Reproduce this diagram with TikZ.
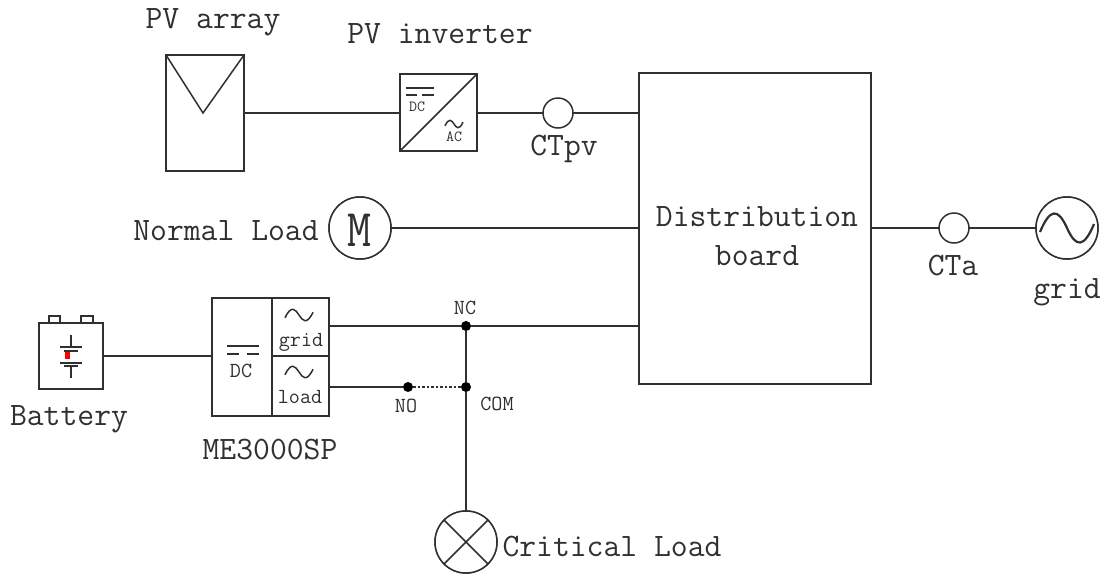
\documentclass[tikz,border=0pt]{standalone}
\usepackage{fontspec}
\definecolor{ink}{HTML}{303030}
\tikzset{
  wire/.style={draw=ink,line width=1.5pt},
  thin wire/.style={draw=ink,line width=1.2pt},
  box/.style={draw=ink,line width=1.5pt,rectangle,inner sep=0pt,outer sep=0pt,anchor=north west},
  ring/.style={draw=ink,line width=1.5pt,circle,inner sep=0pt,outer sep=0pt,fill=white},
  label/.style={text=ink,inner sep=0pt,font=\ttfamily\fontsize{32.7}{33}\selectfont},
  small/.style={text=ink,inner sep=0pt,font=\ttfamily\fontsize{21.5}{22}\selectfont},
  tiny/.style={text=ink,inner sep=0pt,font=\ttfamily\fontsize{15.5}{16}\selectfont},
  dot/.style={circle,fill=black,inner sep=0pt,minimum size=10pt},
}
\newcommand{\tildeat}[3]{% x, y, half width
  \draw[draw=ink,line width=1.5pt] (#1-#3,#2+#3*0.2) .. controls (#1-#3*0.55,#2-#3*0.75) and (#1-#3*0.25,#2-#3*0.4) .. (#1,#2)
     .. controls (#1+#3*0.25,#2+#3*0.4) and (#1+#3*0.55,#2+#3*0.75) .. (#1+#3,#2-#3*0.2);
}
\begin{document}
\begin{tikzpicture}[x=1pt,y=-1pt]
\useasboundingbox (0,0) rectangle (1110,579);

% shapes
\node[box,minimum width=78pt,minimum height=116pt] (pv) at (166,55) {};
\node[box,minimum width=77pt,minimum height=77pt] (inv) at (400,74) {};
\node[box,minimum width=232pt,minimum height=311pt] (board) at (639,73) {};
\node[box,minimum width=64pt,minimum height=66pt] (bat) at (39,323) {};
\node[box,minimum width=117pt,minimum height=118pt] (me) at (212,298) {};
\node[ring,minimum size=62pt] (motor) at (360,228) {};
\node[ring,minimum size=62pt] (gridsrc) at (1067,228) {};
\node[ring,minimum size=62pt] (lamp) at (466,542) {};
\node[dot] (nc) at (466,326) {};
\node[dot] (com) at (466,387) {};
\node[dot] (no) at (408,387) {};

% named connection points
\coordinate (pvout) at (244,113);
\coordinate (invin) at (400,113);
\coordinate (invout) at (477,113);
\coordinate (bpv) at (639,113);
\coordinate (bload) at (639,228);
\coordinate (bgrid) at (871,228);
\coordinate (bme) at (639,326);
\coordinate (batout) at (103,356);
\coordinate (mein) at (212,356);
\coordinate (megrid) at (329,326);
\coordinate (meload) at (329,387);

% connectors
\draw[wire] (pvout) -- (invin);
\draw[wire] (invout) -- (bpv);
\draw[wire] (motor) -- (bload);
\draw[wire] (bgrid) -- (gridsrc);
\draw[wire] (batout) -- (mein);
\draw[wire] (megrid) -- (nc) -- (bme);
\draw[wire] (meload) -- (no);
\draw[draw=ink,line width=1.5pt,dash pattern=on 2.5pt off 2pt] (no) -- (com);
\draw[wire] (nc) -- (com) -- (lamp);

% redraw rings on top of the wires
\node[ring,minimum size=30pt] (ctpv) at (558,113) {};
\node[ring,minimum size=30pt] (cta) at (954,228) {};
\node[ring,minimum size=62pt] at (motor) {};
\node[ring,minimum size=62pt] at (gridsrc) {};
\node[ring,minimum size=62pt] at (lamp) {};

% PV panel mark
\draw[wire,line join=miter] (166,55) -- (203,113) -- (244,55);

% inverter marks
\draw[wire] (400,151) -- (477,74);
\draw[thin wire] (406,88) -- (434,88);
\draw[thin wire] (406,95) -- (417,95) (422,95) -- (434,95);
\node[tiny] (invdc) at (417,107) {DC};
\node[tiny] (invac) at (454,137) {AC};
\tildeat{454}{124}{9}

% motor and grid marks
\node[text=ink,inner sep=0pt,font=\ttfamily\fontsize{53}{53}\selectfont] (mlabel) at (360,230) {\scalebox{0.88}[1]{M}};
\draw[draw=ink,line width=2.2pt] (1040,232) .. controls (1050,208) and (1058,208) .. (1067,228)
   .. controls (1076,248) and (1084,248) .. (1094,224);

% lamp mark
\draw[wire] (lamp.north west) -- (lamp.south east);
\draw[wire] (lamp.north east) -- (lamp.south west);

% battery marks
\draw[wire] (49,323) -- (49,316) -- (60,316) -- (60,323);
\draw[wire] (81,323) -- (81,316) -- (93,316) -- (93,323);
\draw[thin wire] (71,335) -- (71,347);
\draw[thin wire] (60,347) -- (82,347);
\draw[thin wire] (64,351) -- (78,351);
\fill[red] (65,352) rectangle (70,359);
\draw[thin wire] (60,363) -- (82,363);
\draw[thin wire] (64,366) -- (78,366);
\draw[thin wire] (71,366) -- (71,378);

% ME3000SP partitions
\draw[wire] (272,298) -- (272,416);
\draw[wire] (272,356) -- (329,356);
\draw[thin wire] (227,346) -- (259,346);
\draw[thin wire] (227,354) -- (239,354) (247,354) -- (259,354);
\node[small] (dc) at (241,371) {DC};
\tildeat{299}{315}{14}
\tildeat{299}{372}{14}
\node[small] (lgrid) at (301,342) {grid};
\node[small] (lload) at (300,397) {load};

% labels
\node[label] (tpv) at (213,22) {PV array};
\node[label] (tinv) at (440,34) {PV inverter};
\node[label] (tct) at (564,149) {CTpv};
\node[label] (tdist) at (757,217) {Distribution};
\node[label] (tboard) at (757,256) {board};
\node[label] (tnl) at (226,231) {Normal Load};
\node[label] (tcta) at (953,266) {CTa};
\node[label] (tgrid) at (1067,292) {grid};
\node[label] (tbat) at (69,419) {Battery};
\node[label] (tme) at (270,449) {ME3000SP};
\node[label] (tcl) at (612,546) {Critical Load};
\node[small] (tnc) at (465,308) {NC};
\node[small] (tno) at (406,406) {NO};
\node[small] (tcom) at (497,404) {COM};
\end{tikzpicture}
\end{document}
